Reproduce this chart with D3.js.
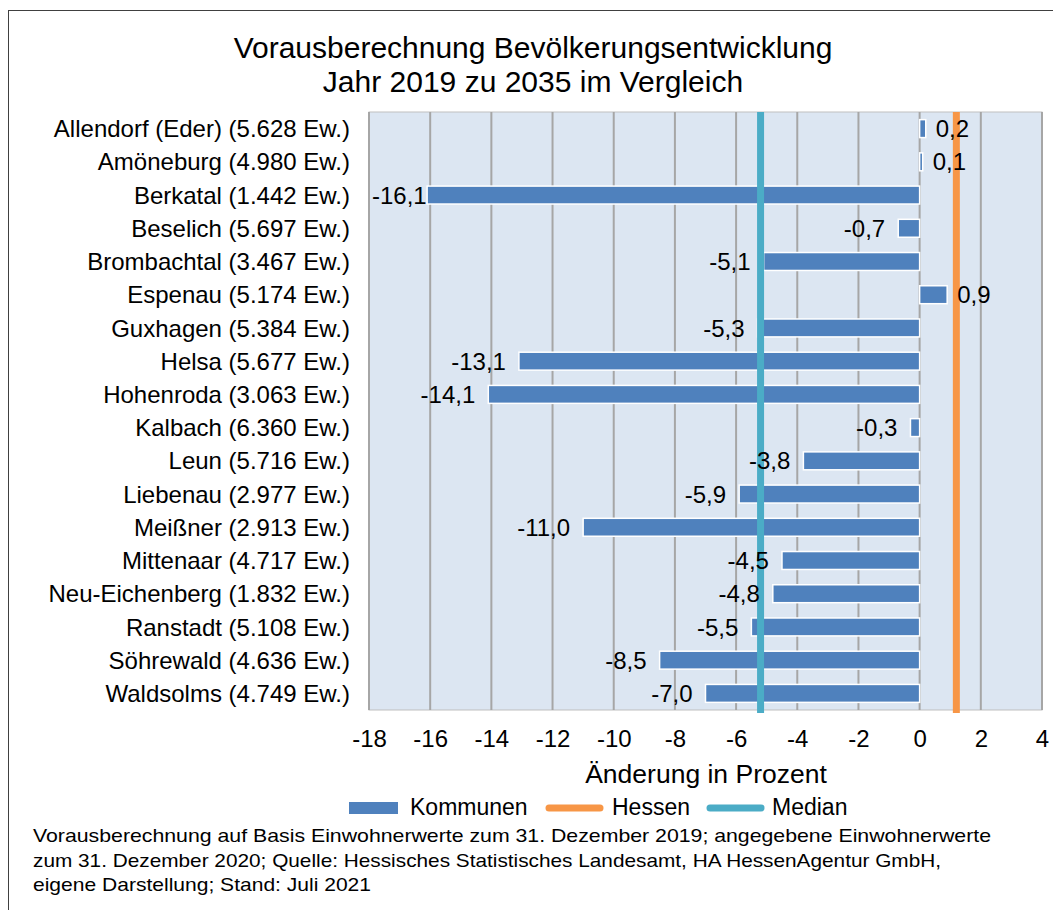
<!DOCTYPE html>
<html>
<head>
<meta charset="utf-8">
<script src="https://cdn.jsdelivr.net/npm/d3@7"></script>
<style>
  body { margin: 0; background: #fff; }
  svg { font-family: "Liberation Sans", Arial, sans-serif; }
</style>
</head>
<body>
<div id="chart"></div>
<script>
// Daten
const kommunen = ["Allendorf (Eder) (5.628 Ew.)", "Amöneburg (4.980 Ew.)", "Berkatal (1.442 Ew.)",
  "Beselich (5.697 Ew.)", "Brombachtal (3.467 Ew.)", "Espenau (5.174 Ew.)", "Guxhagen (5.384 Ew.)",
  "Helsa (5.677 Ew.)", "Hohenroda (3.063 Ew.)", "Kalbach (6.360 Ew.)", "Leun (5.716 Ew.)",
  "Liebenau (2.977 Ew.)", "Meißner (2.913 Ew.)", "Mittenaar (4.717 Ew.)", "Neu-Eichenberg (1.832 Ew.)",
  "Ranstadt (5.108 Ew.)", "Söhrewald (4.636 Ew.)", "Waldsolms (4.749 Ew.)"];
const werte = [0.2, 0.1, -16.1, -0.7, -5.1, 0.9, -5.3, -13.1, -14.1, -0.3, -3.8, -5.9, -11.0, -4.5, -4.8, -5.5, -8.5, -7.0];
const hessen = 1.2;
const median = -5.2;
const xTicks = [-18, -16, -14, -12, -10, -8, -6, -4, -2, 0, 2, 4];
const titel = ["Vorausberechnung Bevölkerungsentwicklung", "Jahr 2019 zu 2035 im Vergleich"];
const fussnote = [
  "Vorausberechnung auf Basis Einwohnerwerte zum 31. Dezember 2019; angegebene Einwohnerwerte",
  "zum 31. Dezember 2020; Quelle: Hessisches Statistisches Landesamt, HA HessenAgentur GmbH,",
  "eigene Darstellung; Stand: Juli 2021"
];

const width = 1053, height = 910;

const svg = d3.select("#chart").append("svg")
  .attr("width", width).attr("height", height);

// Rahmen
svg.append("rect")
  .attr("x", 8.5).attr("y", 10.5)
  .attr("width", 1060).attr("height", 920)
  .attr("fill", "#fff").attr("stroke", "#404040").attr("stroke-width", 1);

// Skalen
const x = d3.scaleLinear().domain([-18, 4]).range([369, 1042]);
const y = d3.scaleBand().domain(kommunen).range([112, 710]).paddingInner(0.46).paddingOuter(0.23);

// Plotbereich
svg.append("rect")
  .attr("x", x(-18)).attr("y", 112)
  .attr("width", x(4) - x(-18)).attr("height", 710 - 112)
  .attr("fill", "#DCE6F2").attr("stroke", "#BFBFBF").attr("stroke-width", 1);

// Gitterlinien
svg.append("g").selectAll("line")
  .data(xTicks)
  .join("line")
  .attr("x1", d => x(d)).attr("x2", d => x(d))
  .attr("y1", 112).attr("y2", 710)
  .attr("stroke", "#A6A6A6").attr("stroke-width", 2);

// Achse
const xAxis = d3.axisBottom(x).tickValues(xTicks).tickSize(0).tickPadding(20)
  .tickFormat(d => d3.format("d")(d).replace("−", "-"));
svg.append("g")
  .attr("transform", "translate(0,710)")
  .call(xAxis)
  .call(g => g.select(".domain").remove())
  .call(g => g.selectAll("text").attr("font-size", 24).attr("fill", "#000")
    .attr("font-family", "Liberation Sans, Arial, sans-serif"));

// Balken
svg.append("g").selectAll("rect")
  .data(werte)
  .join("rect")
  .attr("x", d => x(Math.min(0, d)))
  .attr("y", (d, i) => y(kommunen[i]))
  .attr("width", d => Math.abs(x(d) - x(0)))
  .attr("height", y.bandwidth())
  .attr("fill", "#4F81BD")
  .attr("stroke", "#fff").attr("stroke-width", 1.5);

// Linien Hessen und Median
svg.append("line")
  .attr("x1", x(hessen)).attr("x2", x(hessen))
  .attr("y1", 112).attr("y2", 713)
  .attr("stroke", "#F79646").attr("stroke-width", 7);
svg.append("line")
  .attr("x1", x(median)).attr("x2", x(median))
  .attr("y1", 112).attr("y2", 713)
  .attr("stroke", "#4BACC6").attr("stroke-width", 7);

// Datenbeschriftung (bleibt innerhalb des Plotbereichs)
const fmt = v => v.toFixed(1).replace(".", ",");
svg.append("g").selectAll("text")
  .data(werte)
  .join("text")
  .attr("y", (d, i) => y(kommunen[i]) + y.bandwidth() / 2)
  .attr("dy", "0.36em")
  .attr("text-anchor", "start")
  .attr("font-size", 24)
  .text(d => fmt(d))
  .attr("x", function(d) {
    const w = this.getComputedTextLength();
    if (d >= 0) return x(d) + 10;
    return Math.max(x(-18) + 3, x(d) - 13 - w);
  });

// Kategorien
svg.append("g").selectAll("text")
  .data(kommunen)
  .join("text")
  .attr("x", 350)
  .attr("y", d => y(d) + y.bandwidth() / 2)
  .attr("dy", "0.36em")
  .attr("text-anchor", "end")
  .attr("font-size", 24)
  .text(d => d);

// Titel
svg.append("g").selectAll("text")
  .data(titel)
  .join("text")
  .attr("x", 533).attr("y", (d, i) => 58 + i * 34)
  .attr("text-anchor", "middle")
  .attr("font-size", 30)
  .text(d => d);

// Achsentitel
svg.append("text")
  .attr("x", 706).attr("y", 783)
  .attr("text-anchor", "middle")
  .attr("font-size", 26.5)
  .text("Änderung in Prozent");

// Legende
const legende = svg.append("g").attr("font-size", 23);
legende.append("rect").attr("x", 349).attr("y", 802).attr("width", 49).attr("height", 12).attr("fill", "#4F81BD");
legende.append("text").attr("x", 410).attr("y", 815).text("Kommunen");
legende.append("line").attr("x1", 549).attr("x2", 600).attr("y1", 808).attr("y2", 808)
  .attr("stroke", "#F79646").attr("stroke-width", 7).attr("stroke-linecap", "round");
legende.append("text").attr("x", 612).attr("y", 815).text("Hessen");
legende.append("line").attr("x1", 710).attr("x2", 761).attr("y1", 808).attr("y2", 808)
  .attr("stroke", "#4BACC6").attr("stroke-width", 7).attr("stroke-linecap", "round");
legende.append("text").attr("x", 772).attr("y", 815).text("Median");

// Fußnote
svg.append("g").selectAll("text")
  .data(fussnote)
  .join("text")
  .attr("x", 33).attr("y", (d, i) => 842 + i * 24.5)
  .attr("font-size", 19)
  .attr("textLength", (d, i) => [958, 908, 338][i])
  .attr("lengthAdjust", "spacingAndGlyphs")
  .text(d => d);
</script>
</body>
</html>
